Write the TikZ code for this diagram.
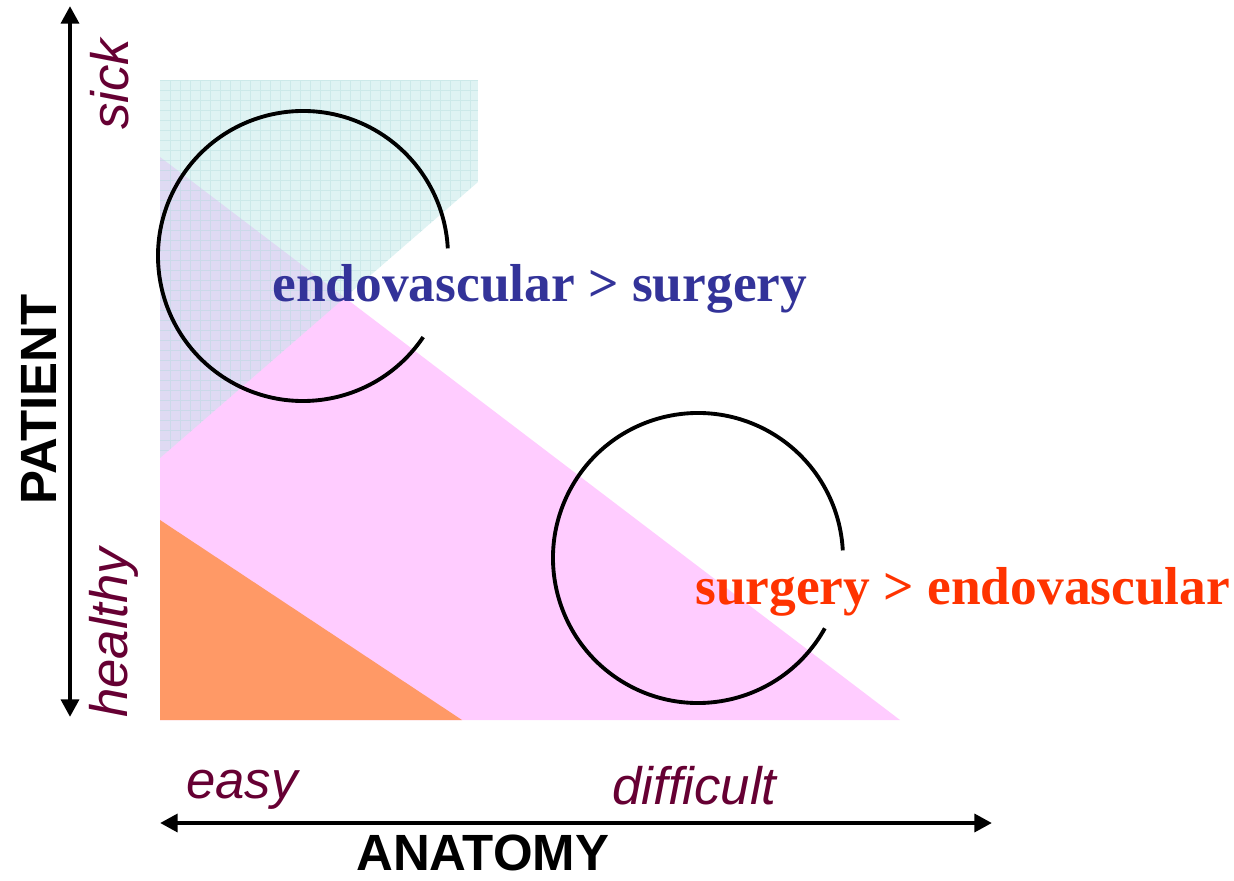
\documentclass[tikz,border=0pt]{standalone}
\usepackage{fontspec}
\setmainfont{Liberation Sans}
\newfontfamily\claimfont{Liberation Serif}
\usepackage{xcolor}
\usetikzlibrary{arrows.meta}

\definecolor{tagred}{HTML}{660033}
\definecolor{endoblue}{HTML}{333399}
\definecolor{surgred}{HTML}{FF3300}
\definecolor{zonepink}{HTML}{FFCCFF}
\definecolor{zoneorange}{HTML}{FF9966}
\definecolor{zonecyan}{HTML}{C0E8E8}
\definecolor{gridcyan}{HTML}{A8D8D8}

\begin{document}
\begin{tikzpicture}[
    x=0.02cm, y=-0.02cm,
    ring/.style={draw=black, line width=2.2pt},
    axis/.style={{Triangle[length=10pt,width=10pt]}-{Triangle[length=10pt,width=10pt]}, line width=2.7pt},
    tag/.style={inner sep=0pt, text=tagred, font=\fontsize{30}{36}\selectfont\itshape},
    title/.style={inner sep=0pt, font=\fontsize{29}{35}\selectfont\bfseries},
    claim/.style={inner sep=0pt, font=\claimfont\fontsize{30.4}{36}\selectfont\bfseries}
]
\useasboundingbox (0,0) rectangle (1234,881);

% zones
\fill[zonepink] (160,157) -- (900,720) -- (160,720) -- cycle;
\fill[zoneorange] (160,520) -- (462,720) -- (160,720) -- cycle;
\begin{scope}
  \clip (160,80) -- (478,80) -- (478,182) -- (160,458) -- cycle;
  \fill[zonecyan, opacity=0.5] (160,80) rectangle (478,458);
  \draw[gridcyan, opacity=0.35, line width=0.4pt, step=0.2cm] (160,80) grid (478,458);
\end{scope}

% rings
\coordinate (c1) at (303,256);
\coordinate (c2) at (698,558);
\draw[ring] (c1) ++(34:145) arc[start angle=34, end angle=357, radius=145];
\draw[ring] (c2) ++(29:145) arc[start angle=29, end angle=357, radius=145];

% axes
\coordinate (sicktop) at (70,6);
\coordinate (healthybottom) at (70,717);
\coordinate (easyend) at (160,823);
\coordinate (difficultend) at (992,823);
\draw[axis] (sicktop) -- (healthybottom);
\draw[axis] (easyend) -- (difficultend);

% labels
\node[tag, rotate=90, anchor=base west] (sick) at (128,130) {sick};
\node[tag, rotate=90, anchor=base west] (healthy) at (127,718) {healthy};
\node[tag, anchor=base west] (easy) at (186,798) {easy};
\node[tag, anchor=base west] (difficult) at (612,804) {difficult};
\node[title, rotate=90, anchor=base west] (patient) at (56,505) {PATIENT};
\node[title, anchor=base west] (anatomy) at (356,870) {ANATOMY};
\node[claim, text=endoblue, anchor=base west] (endo) at (272,302) {endovascular > surgery};
\node[claim, text=surgred, anchor=base west] (surg) at (695,604) {surgery > endovascular};
\end{tikzpicture}
\end{document}
